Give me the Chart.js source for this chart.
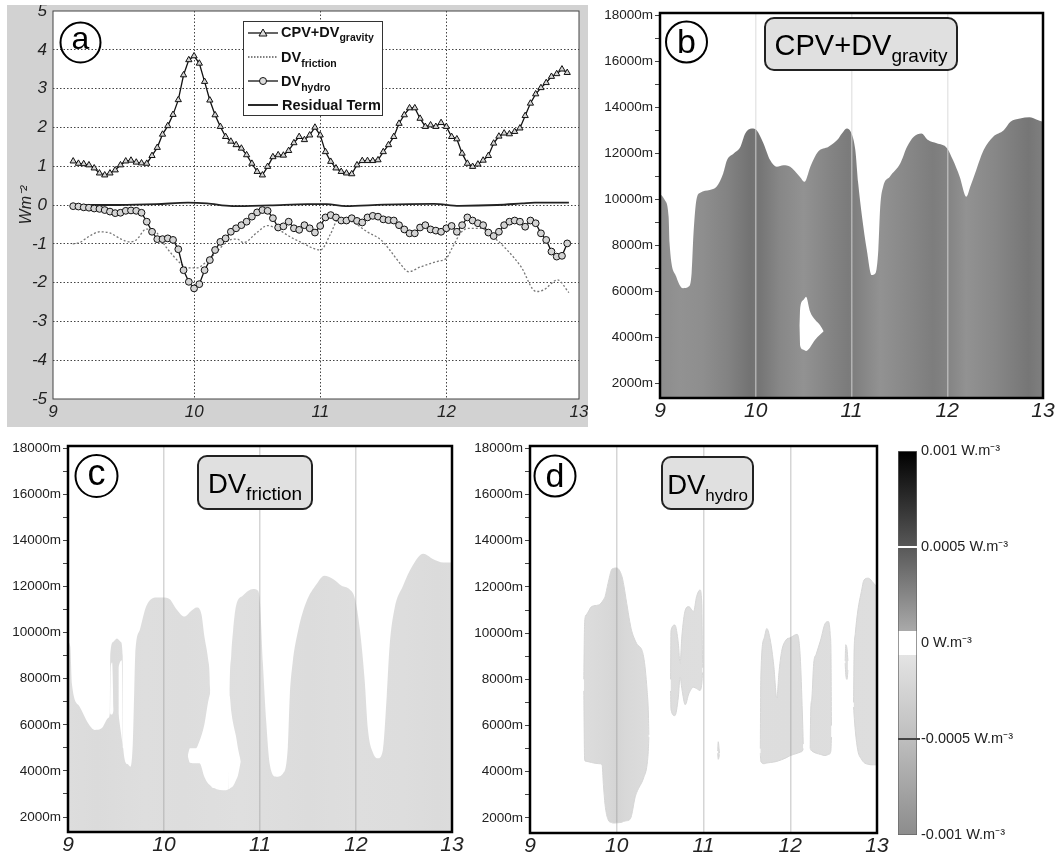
<!DOCTYPE html>
<html>
<head>
<meta charset="utf-8">
<title>Energy budget terms</title>
<script src="https://cdn.jsdelivr.net/npm/chart.js@4.4.1/dist/chart.umd.min.js"></script>
<style>
  html, body { margin:0; padding:0; background:#fff; }
  body { position:relative; width:1061px; height:857px; overflow:hidden; font-family:"Liberation Sans", Arial, sans-serif; }
  canvas { position:absolute; display:block; }
  svg { position:absolute; left:0; top:0; pointer-events:none; }
</style>
</head>
<body>
<canvas id="chartA" width="581" height="422" style="left:7px;top:5px"></canvas>
<canvas id="chartB" width="471" height="425" style="left:590px;top:5px"></canvas>
<canvas id="chartC" width="470" height="421" style="left:0px;top:436px"></canvas>
<canvas id="chartD" width="420" height="421" style="left:470px;top:436px"></canvas>
<canvas id="chartBar" width="171" height="421" style="left:890px;top:436px"></canvas>

<svg width="1061" height="857" font-family="Liberation Sans, Arial, sans-serif">
  <circle cx="80.5" cy="42.5" r="20" fill="none" stroke="#000" stroke-width="2"/>
  <text x="80.5" y="49" font-size="32" text-anchor="middle">a</text>
  <circle cx="686.5" cy="42" r="20.5" fill="none" stroke="#000" stroke-width="2"/>
  <text x="686.5" y="53" font-size="34" text-anchor="middle">b</text>
  <circle cx="96.5" cy="476" r="21" fill="none" stroke="#000" stroke-width="2"/>
  <text x="96.5" y="485" font-size="36" text-anchor="middle">c</text>
  <circle cx="555" cy="476" r="20.5" fill="none" stroke="#000" stroke-width="2"/>
  <text x="555" y="487" font-size="34" text-anchor="middle">d</text>

  <rect x="765" y="18" width="192" height="52" rx="9" fill="#e0e0e0" stroke="#222" stroke-width="2"/>
  <text x="861" y="55" font-size="29" text-anchor="middle">CPV+DV<tspan font-size="19" dy="7">gravity</tspan></text>
  <rect x="198" y="456" width="114" height="53" rx="9" fill="#e0e0e0" stroke="#222" stroke-width="2"/>
  <text x="255" y="493" font-size="27.5" text-anchor="middle">DV<tspan font-size="19" dy="7">friction</tspan></text>
  <rect x="662" y="457" width="91" height="52" rx="9" fill="#e0e0e0" stroke="#222" stroke-width="2"/>
  <text x="707.5" y="494" font-size="27.5" text-anchor="middle">DV<tspan font-size="17" dy="7">hydro</tspan></text>

  <rect x="243.5" y="21.5" width="139" height="94" fill="#fff" stroke="#333" stroke-width="1"/>
  <line x1="248" y1="33" x2="278" y2="33" stroke="#111" stroke-width="1.3"/>
  <polygon points="263,29 267,36 259,36" fill="#ddd" stroke="#111" stroke-width="1"/>
  <line x1="248" y1="57" x2="278" y2="57" stroke="#555" stroke-width="1.3" stroke-dasharray="1.5 1.5"/>
  <line x1="248" y1="81" x2="278" y2="81" stroke="#111" stroke-width="1.3"/>
  <circle cx="263" cy="81" r="3.5" fill="#ddd" stroke="#111" stroke-width="1"/>
  <line x1="248" y1="105" x2="278" y2="105" stroke="#111" stroke-width="1.8"/>
  <g font-size="14.5" font-weight="bold" fill="#111">
    <text x="281" y="37">CPV+DV<tspan font-size="10.5" dy="4">gravity</tspan></text>
    <text x="281" y="62">DV<tspan font-size="10.5" dy="5">friction</tspan></text>
    <text x="281" y="86">DV<tspan font-size="10.5" dy="5">hydro</tspan></text>
    <text x="282" y="110">Residual Term</text>
  </g>
</svg>

<script>
// ================= DATA =================
const HOURLY_START = 9.04;
const cpvGravity = [
  1.13,1.07,1.06,1.03,0.95,0.82,0.77,0.82,0.90,1.03,
  1.13,1.15,1.10,1.08,1.07,1.27,1.48,1.82,2.04,2.33,
  2.71,3.35,3.74,3.84,3.65,3.18,2.70,2.32,2.02,1.76,
  1.64,1.55,1.46,1.29,1.07,0.86,0.77,0.99,1.24,1.29,
  1.28,1.40,1.60,1.76,1.68,1.80,2.00,1.80,1.37,1.12,
  0.95,0.86,0.82,0.80,1.03,1.14,1.14,1.14,1.16,1.37,
  1.55,1.76,2.10,2.32,2.50,2.50,2.23,2.02,2.06,2.02,
  2.12,2.02,1.76,1.70,1.33,1.07,0.99,1.05,1.15,1.27,
  1.59,1.77,1.85,1.83,1.89,1.98,2.30,2.62,2.86,3.02,
  3.15,3.31,3.38,3.50,3.41];
const dvHydro = [
  -0.03,-0.04,-0.06,-0.07,-0.09,-0.10,-0.13,-0.17,-0.21,-0.20,
  -0.15,-0.14,-0.15,-0.20,-0.43,-0.69,-0.88,-0.88,-0.86,-0.90,
  -1.14,-1.68,-1.98,-2.15,-2.04,-1.68,-1.42,-1.16,-0.95,-0.86,
  -0.69,-0.60,-0.52,-0.43,-0.30,-0.19,-0.13,-0.15,-0.34,-0.58,
  -0.55,-0.43,-0.60,-0.64,-0.52,-0.60,-0.71,-0.54,-0.32,-0.26,
  -0.32,-0.40,-0.40,-0.34,-0.41,-0.45,-0.32,-0.28,-0.30,-0.37,
  -0.39,-0.40,-0.52,-0.63,-0.73,-0.73,-0.58,-0.52,-0.63,-0.66,
  -0.69,-0.60,-0.54,-0.69,-0.52,-0.32,-0.40,-0.47,-0.52,-0.71,
  -0.80,-0.69,-0.52,-0.43,-0.40,-0.43,-0.56,-0.40,-0.47,-0.73,
  -0.90,-1.20,-1.33,-1.31,-0.99];
const dvFriction = [
  [9.036,-1.00],[9.09,-0.97],[9.17,-0.80],[9.25,-0.69],[9.33,-0.72],[9.42,-0.88],[9.49,-0.95],
  [9.54,-0.90],[9.62,-0.62],[9.68,-0.65],[9.78,-1.10],[9.89,-1.50],[9.95,-1.62],[10.02,-1.62],
  [10.10,-1.45],[10.18,-1.20],[10.28,-0.90],[10.34,-0.88],[10.39,-0.97],[10.50,-0.70],[10.58,-0.53],
  [10.66,-0.62],[10.76,-0.82],[10.84,-0.95],[11.00,-1.16],[11.08,-0.75],[11.14,-0.38],[11.25,-0.43],
  [11.37,-0.69],[11.48,-0.90],[11.55,-1.16],[11.63,-1.50],[11.70,-1.72],[11.79,-1.60],[11.93,-1.45],
  [12.00,-1.37],[12.05,-1.07],[12.12,-0.69],[12.19,-0.60],[12.27,-0.60],[12.37,-0.82],[12.48,-1.16],
  [12.59,-1.59],[12.71,-2.23],[12.77,-2.19],[12.88,-1.93],[12.97,-2.26]];
const residualTerm = [
  [9.04,0.00],[9.40,0.00],[9.70,0.02],[9.95,0.06],[10.10,0.04],[10.30,-0.03],[10.60,-0.01],
  [10.90,0.02],[11.05,0.02],[11.20,-0.03],[11.50,0.01],[11.90,0.03],[12.10,-0.02],[12.40,0.00],
  [12.60,0.04],[12.70,0.06],[12.97,0.06]];
const panelAXTicks = [8.88, 10, 11, 12, 13.05];
const panelAXLabels = ['9', '10', '11', '12', '13'];

const dayTicks = [9, 10, 11, 12, 13];
const dayTickLabels = ['9', '10', '11', '12', '13'];
const heightTicks = [2000,3000,4000,5000,6000,7000,8000,9000,10000,11000,12000,13000,14000,15000,16000,17000,18000];

const gravityTop = [
  [9.00,10250],[9.05,9960],[9.09,9240],[9.10,8080],[9.17,6630],[9.24,6130],[9.30,6200],[9.33,6780],
  [9.35,8520],[9.38,9960],[9.42,10280],[9.52,10400],[9.59,10540],[9.66,11120],[9.70,11700],[9.77,11990],
  [9.84,12280],[9.89,12860],[9.96,13080],[10.01,13000],[10.08,12430],[10.15,11700],[10.22,11410],[10.29,11480],
  [10.36,11410],[10.46,10980],[10.51,10760],[10.57,11410],[10.65,12060],[10.76,12280],[10.85,12570],[10.90,12860],
  [10.95,13080],[11.00,12860],[11.04,12140],[11.07,10690],[11.11,9240],[11.16,7790],[11.21,6700],[11.25,6780],
  [11.28,7790],[11.30,9680],[11.33,10540],[11.40,10980],[11.51,11560],[11.58,12280],[11.65,12720],[11.73,12860],
  [11.80,12570],[11.89,12430],[12.00,12210],[12.06,11700],[12.13,10980],[12.20,10110],[12.24,10540],[12.29,11120],
  [12.38,12140],[12.48,12720],[12.59,13000],[12.66,13370],[12.76,13510],[12.86,13560],[12.93,13470],[13.00,13370]];
const gravityHole = [[10.455,4500,4500],[10.465,5300,3600],[10.50,5620,3450],[10.525,5760,3400],[10.567,5110,3550],[10.62,4750,3880],[10.67,4530,4100],[10.71,4250,4250]];
const gravityShade = [[9.0,0.00022],[9.2,0.00019],[9.45,0.00021],[9.7,0.00027],[9.95,0.00036],[10.05,0.00034],[10.25,0.00025],[10.5,0.00019],[10.8,0.00027],[10.97,0.00031],[11.3,0.00019],[11.6,0.00025],[11.85,0.00030],[12.0,0.00027],[12.2,0.00019],[12.5,0.00025],[12.85,0.00034],[13.0,0.00029]];

const frictionTop = [
  [9.00,9600],[9.024,9400],[9.04,7800],[9.12,6800],[9.21,6070],[9.28,5780],[9.35,5850],[9.42,6300],
  [9.435,6500],[9.44,9000],[9.47,9600],[9.51,9750],[9.55,9600],[9.57,9000],[9.575,5000],[9.62,4300],
  [9.65,4180],[9.675,5200],[9.69,7500],[9.70,9000],[9.75,10150],[9.816,11160],[9.92,11530],[9.99,11530],
  [10.06,11450],[10.13,11020],[10.215,10700],[10.285,10950],[10.34,11090],[10.39,10800],[10.42,9850],[10.46,8840],
  [10.48,7530],[10.49,3350],[10.52,3260],[10.55,3200],[10.615,3160],[10.677,3230],[10.684,7240],[10.70,9000],
  [10.72,10100],[10.75,11160],[10.82,11600],[10.93,11890],[10.98,11820],[11.00,11300],[11.03,8690],[11.066,6070],
  [11.10,4330],[11.17,3750],[11.24,3890],[11.29,5050],[11.31,7240],[11.34,8690],[11.40,10150],[11.48,11310],
  [11.59,12110],[11.67,12470],[11.76,12330],[11.85,12040],[11.93,11890],[11.99,11450],[12.04,10150],[12.09,7960],
  [12.125,5780],[12.18,4760],[12.23,4550],[12.28,4910],[12.32,7240],[12.35,9420],[12.40,11020],[12.49,12040],
  [12.59,12910],[12.70,13420],[12.80,13200],[12.91,13050],[13.00,13050]];
const frictionHoleA = [[9.438,6550,6500],[9.445,8500,6450],[9.46,8700,6450],[9.475,6700,6600]];
const frictionHoleB = [[9.525,8500,6500],[9.54,8700,6000],[9.56,8800,5400],[9.575,5000,5000]];
const frictionHoleC = [[10.25,4700,4600],[10.27,4980,4350],[10.33,4980,4330],[10.37,5300,4330],[10.42,6000,3750],[10.46,7000,3450],[10.49,7530,3350]];
const frictionHoleD = [[10.672,7240,3200],[10.684,7240,3230],[10.70,6600,3280],[10.72,6070,3350],[10.75,5500,3600],[10.77,5000,3800],[10.79,4600,4200],[10.80,4400,4400]];
const frictionShade = [[9.0,-0.00014],[9.3,-0.00016],[9.8,-0.00013],[10.2,-0.00014],[10.8,-0.00012],[11.5,-0.00015],[12.0,-0.00013],[12.5,-0.00014],[12.85,-0.00017],[13.0,-0.00015]];

const hydroBlobA = [[9.62,8000,7500],[9.63,10500,4500],[9.65,10800,4450],[9.71,11150,4400],[9.79,11220,4350],[9.83,11350,4320],[9.846,11450,3450],[9.865,11580,2580],[9.90,12165,1930],[9.94,12745,1800],[9.96,12800,1780],[10.0,12820,1790],[10.06,12455,1820],[10.08,12100,1855],[10.115,11290,1880],[10.15,10500,1930],[10.17,10130,2100],[10.21,9700,2870],[10.23,9550,3100],[10.31,8970,3740],[10.35,7520,4320],[10.365,6500,5000],[10.37,5600,5500]];
const hydroBlobB = [[10.62,8000,7500],[10.625,10100,6700],[10.67,10350,6430],[10.71,9550,7230],[10.73,8680,8100],[10.75,9840,7600],[10.79,11000,6900],[10.83,11150,7370],[10.885,10930,7660],[10.92,11580,7600],[10.96,11870,7520],[10.98,11290,7800],[10.99,8500,8300]];
const hydroBlobC = [[11.163,4900,4800],[11.17,5300,4540],[11.18,5000,4650],[11.185,4800,4750]];
const hydroBlobD = [[11.655,5000,4800],[11.66,8000,4450],[11.70,9800,4350],[11.73,10200,4380],[11.77,9700,4400],[11.81,8600,4420],[11.845,7200,4450],[11.87,8300,4480],[11.90,9200,4520],[11.95,9700,4600],[12.0,9800,4700],[12.08,9950,4800],[12.115,9000,4850],[12.14,6500,4900],[12.15,5200,5000]];
const hydroBlobE = [[12.23,5000,4950],[12.235,6500,4950],[12.25,7230,4900],[12.27,8680,4850],[12.30,9100,4800],[12.35,9700,4750],[12.40,10400,4700],[12.44,10500,4750],[12.46,10000,4800],[12.47,9000,5000],[12.475,6000,5500]];
const hydroBlobF = [[12.633,8800,8700],[12.64,9500,8200],[12.655,9300,8000],[12.665,8800,8400]];
const hydroBlobG = [[12.73,7000,6800],[12.735,9000,6500],[12.75,10000,5775],[12.78,11000,4900],[12.82,11800,4550],[12.85,12300,4400],[12.90,12380,4320],[12.96,12165,4300],[13.0,12000,4300]];
const hydroShade = [[9.0,-0.00013],[9.6,-0.00014],[9.9,-0.00020],[10.0,-0.00024],[10.1,-0.00020],[10.4,-0.00014],[11.0,-0.00013],[12.0,-0.00014],[13.0,-0.00013]];

const cbarTicks = [-0.001, -0.0005, 0, 0.0005, 0.001];
const cbarLabels = ['-0.001 W.m⁻³', '-0.0005 W.m⁻³', '0 W.m⁻³', '0.0005 W.m⁻³', '0.001 W.m⁻³'];

// ================= RENDERING =================
const FONT = '"Liberation Sans", Arial, sans-serif';
Chart.defaults.font.family = FONT;
Chart.defaults.color = '#222';

function grayLevel(v) {
  const a = Math.abs(v);
  if (a < 0.00006) return 255;
  const p = v < 0 ? [[0.00006,228],[0.0005,190],[0.001,140]] : [[0.00006,170],[0.0005,88],[0.001,0]];
  for (let i = 1; i < p.length; i++) {
    if (a <= p[i][0]) {
      const t = (a - p[i-1][0]) / (p[i][0] - p[i-1][0]);
      return p[i-1][1] + t * (p[i][1] - p[i-1][1]);
    }
  }
  return p[p.length-1][1];
}
function grayCss(v) { const g = Math.round(grayLevel(v)); return `rgb(${g},${g},${g})`; }

function shadeFill(shade) {
  return (ctx) => {
    const chart = ctx.chart, area = chart.chartArea, xs = chart.scales.x;
    if (!area || !xs) return grayCss(shade[0][1]);
    const g = chart.ctx.createLinearGradient(area.left, 0, area.right, 0);
    const w = area.right - area.left;
    shade.forEach(([d, v]) => {
      const off = Math.min(1, Math.max(0, (xs.getPixelForValue(d) - area.left) / w));
      g.addColorStop(off, grayCss(v));
    });
    return g;
  };
}

const noPad = (s) => { s.paddingLeft = 0; s.paddingRight = 0; s.paddingTop = 0; s.paddingBottom = 0; };
const framePlugin = (w, c) => ({
  id: 'frame',
  afterDraw(chart) {
    const {ctx, chartArea: a} = chart;
    ctx.save(); ctx.lineWidth = w; ctx.strokeStyle = c;
    ctx.strokeRect(a.left, a.top, a.right - a.left, a.bottom - a.top);
    ctx.restore();
  }
});
const baseOpts = { responsive: false, animation: false, devicePixelRatio: 1, events: [] };
const hiddenLine = { pointRadius: 0, pointHoverRadius: 0, borderWidth: 0, borderColor: 'transparent', pointBackgroundColor: 'transparent', cubicInterpolationMode: 'monotone' };

const hourly = (arr) => arr.map((v, i) => ({ x: HOURLY_START + i / 24, y: v }));
const pairs = (arr) => arr.map(r => ({ x: r[0], y: r[1] }));

new Chart(document.getElementById('chartA'), {
  type: 'line',
  data: { datasets: [
    { label: 'CPV+DV gravity', data: hourly(cpvGravity), borderColor: '#111', borderWidth: 1.3,
      pointStyle: 'triangle', pointRadius: 3.6, pointBorderWidth: 1, pointBorderColor: '#111', pointBackgroundColor: '#d4d4d4', order: 1 },
    { label: 'DV friction', data: pairs(dvFriction), borderColor: '#777', borderWidth: 1.3, borderDash: [2, 2],
      pointRadius: 0, cubicInterpolationMode: 'monotone', order: 4 },
    { label: 'DV hydro', data: hourly(dvHydro), borderColor: '#111', borderWidth: 1.3,
      pointStyle: 'circle', pointRadius: 3.4, pointBorderWidth: 1, pointBorderColor: '#111', pointBackgroundColor: '#d4d4d4', order: 2 },
    { label: 'Residual Term', data: pairs(residualTerm), borderColor: '#222', borderWidth: 1.8,
      pointRadius: 0, cubicInterpolationMode: 'monotone', order: 3 }
  ]},
  options: Object.assign({}, baseOpts, {
    layout: { padding: { left: 0, top: 6, right: 9, bottom: 0 } },
    plugins: { legend: { display: false }, tooltip: { enabled: false } },
    scales: {
      x: { type: 'linear', min: 8.88, max: 13.05,
        afterBuildTicks: s => { s.ticks = panelAXTicks.map(v => ({ value: v })); },
        afterFit: s => { s.height = 28; noPad(s); },
        ticks: { font: { size: 17, style: 'italic' }, color: '#222', padding: 3, maxRotation: 0, autoSkip: false,
                 callback: (v, i) => panelAXLabels[i] },
        grid: { drawTicks: false, lineWidth: 1, color: c => (c.index > 0 && c.index < panelAXTicks.length - 1) ? '#444' : 'transparent' },
        border: { display: false, dash: [1.5, 2] } },
      y: { type: 'linear', min: -5, max: 5,
        afterFit: s => { s.width = 46; noPad(s); },
        ticks: { stepSize: 1, font: { size: 17, style: 'italic' }, color: '#222', padding: 6, autoSkip: false },
        grid: { drawTicks: false, lineWidth: 1, color: c => (c.tick && Math.abs(c.tick.value) < 4.5) ? '#444' : 'transparent' },
        border: { display: false, dash: [1.5, 2] },
        title: { display: true, text: 'Wm⁻²', font: { size: 16, style: 'italic' }, color: '#222', padding: { top: 10, bottom: 0 } } }
    }
  }),
  plugins: [{
    id: 'bgA',
    beforeDraw(chart) {
      const {ctx, chartArea: a, width, height} = chart;
      ctx.save(); ctx.fillStyle = '#d2d2d2'; ctx.fillRect(0, 0, width, height);
      ctx.fillStyle = '#fff'; ctx.fillRect(a.left, a.top, a.right - a.left, a.bottom - a.top); ctx.restore();
    }
  }, framePlugin(1, '#444')]
});

function sectionChart(id, cfg) {
  const datasets = [];
  if (cfg.edge) {
    datasets.push(Object.assign({}, hiddenLine, { data: pairs(cfg.edge), fill: 'start', backgroundColor: shadeFill(cfg.shade), order: 10 }));
  } else {
    datasets.push(Object.assign({}, hiddenLine, { data: [], fill: false }));
  }
  cfg.bands.forEach(b => {
    const bi = datasets.length;
    const edge = b.edgeColor ? { borderWidth: 1, borderColor: b.edgeColor } : {};
    datasets.push(Object.assign({}, hiddenLine, edge, { data: b.rows.map(r => ({ x: r[0], y: r[2] })), fill: false, order: b.order }));
    datasets.push(Object.assign({}, hiddenLine, edge, { data: b.rows.map(r => ({ x: r[0], y: r[1] })), fill: bi, backgroundColor: b.color, order: b.order }));
  });
  return new Chart(document.getElementById(id), {
    type: 'line',
    data: { datasets },
    options: Object.assign({}, baseOpts, {
      layout: { padding: { left: 0, top: cfg.padTop, right: cfg.padRight, bottom: 0 } },
      plugins: { legend: { display: false }, tooltip: { enabled: false } },
      scales: {
        x: { type: 'linear', min: 9, max: 13,
          afterBuildTicks: s => { s.ticks = dayTicks.map(v => ({ value: v })); },
          afterFit: s => { s.height = cfg.xH; noPad(s); },
          ticks: { font: { size: 21, style: 'italic' }, color: '#222', padding: 1, maxRotation: 0, autoSkip: false,
                   callback: (v, i) => dayTickLabels[i] },
          grid: { drawOnChartArea: true, drawTicks: false, lineWidth: 1.5, z: 1,
                  color: c => (c.tick && c.tick.value > 9 && c.tick.value < 13) ? cfg.gridColor : 'transparent' },
          border: { display: false } },
        y: { type: 'linear', min: 1350, max: 18100,
          afterBuildTicks: s => { s.ticks = heightTicks.map(v => ({ value: v })); },
          afterFit: s => { s.width = cfg.yW; noPad(s); },
          ticks: { font: { size: 13.5 }, color: '#222', padding: 2, autoSkip: false,
                   callback: v => (v % 2000 === 0) ? v + 'm' : '' },
          grid: { drawOnChartArea: false, drawTicks: true, tickLength: 5, tickColor: '#444', tickWidth: 1 },
          border: { display: false } }
      }
    }),
    plugins: [framePlugin(2.5, '#000')]
  });
}

sectionChart('chartB', {
  edge: gravityTop, shade: gravityShade, padTop: 8, padRight: 18, xH: 32, yW: 70,
  gridColor: 'rgba(215,215,215,0.6)',
  bands: [{ rows: gravityHole, color: '#fff', order: 5 }]
});
sectionChart('chartC', {
  edge: frictionTop, shade: frictionShade, padTop: 10, padRight: 18, xH: 25, yW: 68,
  gridColor: 'rgba(150,150,150,0.4)',
  bands: [
    { rows: frictionHoleA, color: '#fff', order: 5 },
    { rows: frictionHoleB, color: '#fff', order: 5 },
    { rows: frictionHoleC, color: '#fff', order: 5 },
    { rows: frictionHoleD, color: '#fff', order: 5 }
  ]
});
const hydroFill = shadeFill(hydroShade);
sectionChart('chartD', {
  edge: null, padTop: 10, padRight: 13, xH: 24, yW: 60,
  gridColor: 'rgba(150,150,150,0.4)',
  bands: [hydroBlobA, hydroBlobB, hydroBlobC, hydroBlobD, hydroBlobE, hydroBlobF, hydroBlobG].map(r => ({ rows: r, color: hydroFill, edgeColor: '#d6d6d6', order: 5 }))
});

function cbarGradient(ctx) {
  const chart = ctx.chart, y = chart.scales.y;
  if (!chart.chartArea || !y) return '#999';
  const lo = cbarTicks[0], hi = cbarTicks[cbarTicks.length - 1];
  const top = y.getPixelForValue(hi), bot = y.getPixelForValue(lo);
  const g = chart.ctx.createLinearGradient(0, top, 0, bot);
  const add = (v, gray) => { const k = Math.round(gray); g.addColorStop(Math.min(1, Math.max(0, (y.getPixelForValue(v) - top) / (bot - top))), `rgb(${k},${k},${k})`); };
  [hi, 0.0005, 0.00006].forEach(v => add(v, grayLevel(v)));
  add(0.00006, 255); add(-0.00006, 255);
  [-0.00006, -0.0005, lo].forEach(v => add(v, grayLevel(v)));
  return g;
}
new Chart(document.getElementById('chartBar'), {
  type: 'bar',
  data: { labels: [''], datasets: [{ data: [[cbarTicks[0], cbarTicks[cbarTicks.length - 1]]], backgroundColor: cbarGradient,
    borderColor: '#666', borderWidth: 1, borderSkipped: false, barPercentage: 1, categoryPercentage: 1 }] },
  options: Object.assign({}, baseOpts, {
    layout: { padding: { left: 8, top: 15, bottom: 22, right: 0 } },
    plugins: { legend: { display: false }, tooltip: { enabled: false } },
    scales: {
      x: { display: false },
      y: { position: 'right', min: cbarTicks[0], max: cbarTicks[cbarTicks.length - 1],
        afterBuildTicks: s => { s.ticks = cbarTicks.map(v => ({ value: v })); },
        afterFit: s => { s.width = 144; noPad(s); },
        ticks: { font: { size: 14.5 }, color: '#222', padding: 1, autoSkip: false, callback: (v, i) => cbarLabels[i] },
        grid: { drawOnChartArea: true, drawTicks: true, tickLength: 3, lineWidth: 2, z: 1,
          color: c => !c.tick ? 'transparent' : (Math.abs(c.tick.value - 0.0005) < 1e-9 ? '#fff' : (Math.abs(c.tick.value + 0.0005) < 1e-9 ? '#444' : 'transparent')),
          tickColor: c => !c.tick ? 'transparent' : (Math.abs(c.tick.value + 0.0005) < 1e-9 ? '#444' : 'transparent') },
        border: { display: false } }
    }
  })
});
</script>
</body>
</html>
